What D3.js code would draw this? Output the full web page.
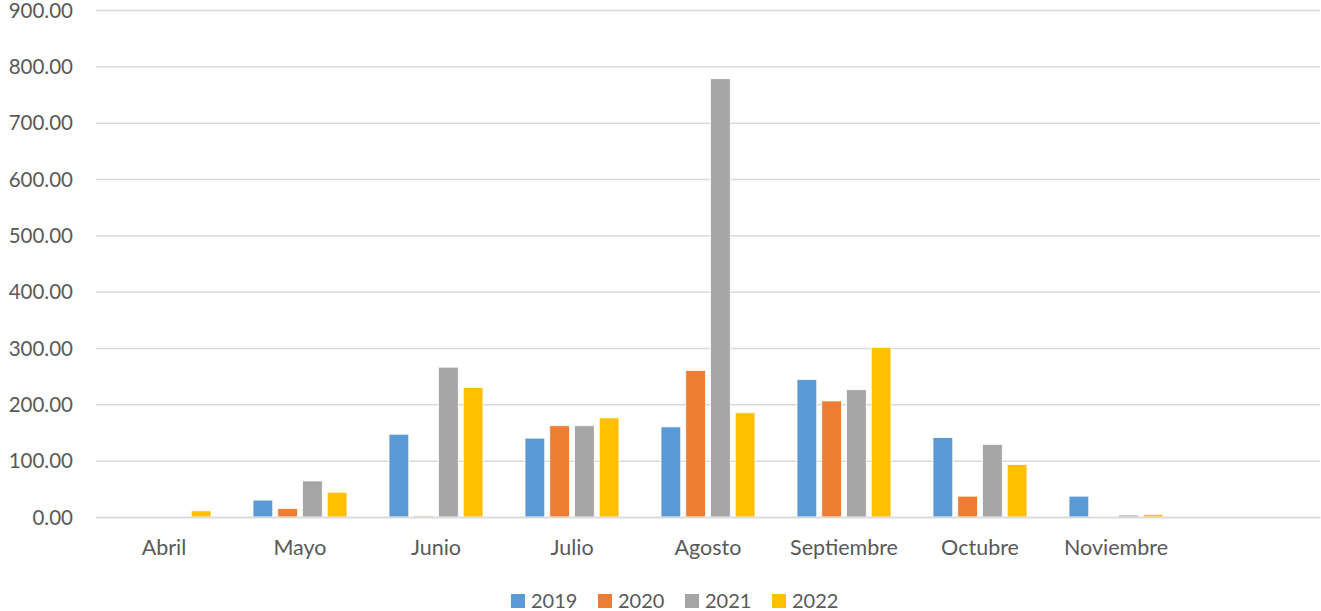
<!DOCTYPE html>
<html>
<head>
<meta charset="utf-8">
<script src="https://cdn.jsdelivr.net/npm/d3@7"></script>
<style>
  body { margin: 0; background: #fff; }
  svg text { font-family: Lato, "Open Sans", sans-serif; fill: #595959; }
</style>
</head>
<body>
<svg id="chart" width="1321" height="611"></svg>
<script>
// DATA
const months = ["Abril", "Mayo", "Junio", "Julio", "Agosto", "Septiembre", "Octubre", "Noviembre", ""];
const years = ["2019", "2020", "2021", "2022"];
const values2019 = [0, 30, 147, 140, 160, 244, 141, 37, null];
const values2020 = [0, 15, 2, 162, 260, 206, 37, 1, null];
const values2021 = [0, 64, 266, 162, 778, 226, 129, 3.5, null];
const values2022 = [11, 44, 230, 176, 185, 301, 93, 4.8, null];
const yTicks = [0, 100, 200, 300, 400, 500, 600, 700, 800, 900];

const seriesValues = [values2019, values2020, values2021, values2022];
const colors = ["#5B9BD5", "#ED7D31", "#A5A5A5", "#FFC000"];

const svg = d3.select("#chart");
const plotLeft = 96, plotRight = 1320, plotTop = 10, plotBottom = 517;

// SCALES
const x0 = d3.scaleBand().domain(months).range([plotLeft, plotRight]).padding(0);
const inner = 94;
const x1 = d3.scaleBand().domain(years)
  .range([(x0.bandwidth() - inner) / 2, (x0.bandwidth() + inner) / 2])
  .paddingInner(0.2).paddingOuter(0);
const y = d3.scaleLinear().domain([0, 900]).range([plotBottom, plotTop]);
const color = d3.scaleOrdinal().domain(years).range(colors);

// GRIDLINES + Y LABELS
const yAxis = d3.axisLeft(y).tickValues(yTicks).tickFormat(d3.format(".2f"))
  .tickSize(-(plotRight - plotLeft)).tickPadding(23);
const gy = svg.append("g").attr("transform", `translate(${plotLeft},0)`).call(yAxis);
gy.select(".domain").remove();
gy.selectAll(".tick line").attr("stroke", "#D9D9D9").attr("stroke-width", 1.5);
gy.selectAll(".tick text").style("font-size", "20.5px").attr("dy", "0.35em");

// BARS
const groups = svg.append("g").selectAll("g")
  .data(months)
  .join("g")
  .attr("transform", d => `translate(${x0(d)},0)`);

groups.selectAll("rect")
  .data((m, i) => years.map((yr, k) => ({ yr, v: seriesValues[k][i] })).filter(d => d.v != null))
  .join("rect")
  .attr("x", d => x1(d.yr))
  .attr("width", x1.bandwidth())
  .attr("y", d => y(d.v))
  .attr("height", d => y(0) - y(d.v))
  .attr("fill", d => color(d.yr))
  .attr("stroke", "#fff")
  .attr("stroke-width", 0.8);

// X AXIS
const xAxis = d3.axisBottom(x0).tickSize(0).tickPadding(23);
const gx = svg.append("g").attr("transform", `translate(0,${plotBottom})`).call(xAxis);
gx.select(".domain").attr("stroke", "#D9D9D9").attr("stroke-width", 1.5);
gx.selectAll(".tick text").style("font-size", "21.5px");

// LEGEND
const legend = svg.append("g").attr("transform", "translate(511,593)");
const item = legend.selectAll("g").data(years).join("g")
  .attr("transform", (d, i) => `translate(${i * 87},0)`);
item.append("rect").attr("width", 14).attr("height", 14).attr("y", 1)
  .attr("fill", d => color(d));
item.append("text").attr("x", 20).attr("y", 8).attr("dy", "0.35em")
  .style("font-size", "20px").text(d => d);
</script>
</body>
</html>
